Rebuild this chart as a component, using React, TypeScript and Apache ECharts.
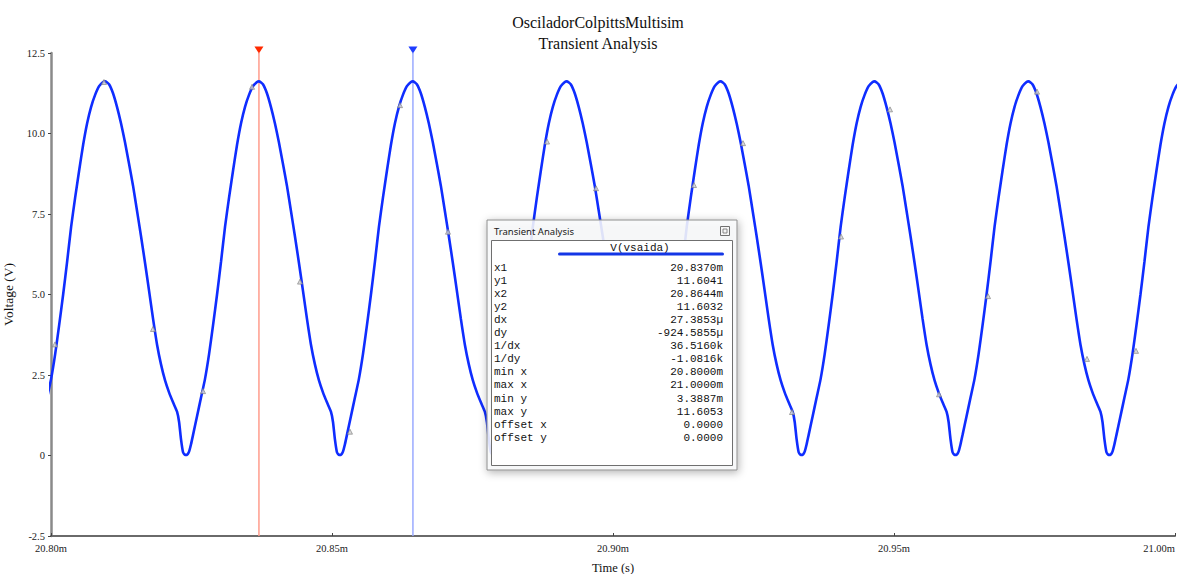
import React, { useEffect, useRef } from "react";
import * as echarts from "echarts";

const peakTimesMs = [20.78223, 20.809615, 20.837, 20.864385, 20.89177, 20.919155, 20.94654, 20.973925];
// One cycle shape: offset after the peak (µs) and voltage (V)
const cycleOffsetsUs = [0, 0.71, 1.42, 2.14, 2.85, 3.56, 4.27, 4.98, 5.69, 6.41, 7.12, 7.83, 8.54, 9.25, 9.96, 10.68, 11.39, 12.1, 12.81, 13.17, 13.52, 13.88, 14.23, 14.59, 14.95, 15.3, 15.66, 16.37, 17.08, 17.79, 18.51, 19.22, 19.93, 20.64, 21.35, 22.06, 22.78, 23.49, 24.2, 24.91, 25.62, 26.33, 27.05];
const cycleVolts = [11.62, 11.53, 11.25, 10.82, 10.31, 9.72, 9.06, 8.38, 7.6, 6.8, 5.98, 5.12, 4.25, 3.45, 2.83, 2.33, 1.96, 1.65, 1.36, 1.05, 0.5, 0.1, 0.02, 0.02, 0.12, 0.35, 0.64, 1.22, 1.8, 2.38, 3.15, 4.05, 5.0, 6.02, 7.1, 8.0, 8.85, 9.65, 10.32, 10.83, 11.2, 11.47, 11.6];

// Small data-point markers on the trace
const markerTimesMs = [20.80071, 20.80943, 20.81815, 20.82705, 20.83577, 20.84431, 20.8532, 20.8621, 20.87064, 20.88826, 20.89698, 20.91441, 20.92313, 20.93185, 20.94057, 20.94929, 20.95801, 20.96673, 20.97545, 20.98434, 20.99306];
const markerVolts = [3.45, 11.6, 3.93, 2.0, 11.45, 5.4, 0.74, 10.88, 6.95, 9.75, 8.3, 8.4, 9.7, 1.35, 6.8, 10.75, 1.9, 4.95, 11.3, 3.0, 3.25];

// Cursors
const cursorTimes = [20.837, 20.8644];
const cursorLineColors = ["#ff9c8c", "#9aaaff"];
const cursorHeadColors = ["#ff2a00", "#1e3cff"];

// Axis ticks
const xTicksMin = 20.8;
const xTicksMax = 21.0;
const xTickStep = 0.05;
const yTicksMin = -2.5;
const yTicksMax = 12.5;
const yTickStep = 2.5;

// Readout window
const readoutHeader = "V(vsaida)";
const readoutLabels = ["x1", "y1", "x2", "y2", "dx", "dy", "1/dx", "1/dy", "min x", "max x", "min y", "max y", "offset x", "offset y"];
const readoutValues = ["20.8370m", "11.6041", "20.8644m", "11.6032", "27.3853\u00b5", "-924.5855\u00b5", "36.5160k", "-1.0816k", "20.8000m", "21.0000m", "3.3887m", "11.6053", "0.0000", "0.0000"];

const SERIF = "'Liberation Serif', 'Times New Roman', serif";
const MONO = "'Liberation Mono', 'Courier New', monospace";
const SANS = "'Noto Sans', 'DejaVu Sans', sans-serif";

export default function App() {
  const ref = useRef<HTMLDivElement>(null);

  useEffect(() => {
    if (!ref.current) return;
    const chart = echarts.init(ref.current, undefined, { renderer: "svg" });

    const trace: [number, number][] = [];
    peakTimesMs.forEach((p) => {
      cycleOffsetsUs.forEach((o, i) => {
        trace.push([p + o / 1000, cycleVolts[i]]);
      });
    });
    const markers = markerTimesMs.map((t, i) => [t, markerVolts[i]]);

    const rowTop = 268;
    const rowStep = 13.05;
    const popup: any[] = [
      {
        type: "rect",
        shape: { x: 487, y: 220, width: 250, height: 250 },
        style: {
          fill: "rgba(250,251,253,0.86)",
          stroke: "#8e8e8e",
          lineWidth: 1,
          shadowBlur: 8,
          shadowColor: "rgba(0,0,0,0.35)",
          shadowOffsetX: 1,
          shadowOffsetY: 2,
        },
        z: 100,
      },
      {
        type: "text",
        x: 494,
        y: 231,
        style: { text: "Transient Analysis", font: `9.5px ${SANS}`, fill: "#1a1a1a", verticalAlign: "middle" },
        z: 101,
      },
      {
        type: "rect",
        shape: { x: 720.5, y: 226.5, width: 9, height: 9 },
        style: { fill: "#f6f6f6", stroke: "#707070", lineWidth: 1 },
        z: 101,
      },
      {
        type: "rect",
        shape: { x: 723, y: 229, width: 4, height: 4 },
        style: { fill: "none", stroke: "#707070", lineWidth: 0.8 },
        z: 102,
      },
      {
        type: "rect",
        shape: { x: 491.5, y: 240.5, width: 241, height: 225 },
        style: { fill: "#ffffff", stroke: "#6f6f6f", lineWidth: 1 },
        z: 101,
      },
      {
        type: "text",
        x: 640,
        y: 247.5,
        style: { text: readoutHeader, font: `11px ${MONO}`, fill: "#111", align: "center", verticalAlign: "middle" },
        z: 102,
      },
      {
        type: "rect",
        shape: { x: 558, y: 252.5, width: 166, height: 3, r: 1.5 },
        style: { fill: "#1436e6" },
        z: 102,
      },
    ];
    readoutLabels.forEach((lab, i) => {
      const y = rowTop + i * rowStep;
      popup.push({
        type: "text",
        x: 494,
        y,
        style: { text: lab, font: `11px ${MONO}`, fill: "#111", verticalAlign: "middle" },
        z: 102,
      });
      popup.push({
        type: "text",
        x: 723,
        y,
        style: { text: readoutValues[i], font: `11px ${MONO}`, fill: "#111", align: "right", verticalAlign: "middle" },
        z: 102,
      });
    });

    const cursorSeries = cursorTimes.map((t, i) => ({
      type: "line",
      data: [
        [t, yTicksMin],
        [t, yTicksMax],
      ],
      showSymbol: false,
      silent: true,
      clip: false,
      lineStyle: { color: cursorLineColors[i], width: 1.5 },
      z: 2,
      markPoint: {
        silent: true,
        label: { show: false },
        animation: false,
        data: [
          {
            coord: [t, yTicksMax],
            symbol: "triangle",
            symbolRotate: 180,
            symbolSize: [9, 7],
            symbolOffset: [0, -3],
            itemStyle: { color: cursorHeadColors[i] },
          },
        ],
      },
    }));

    chart.setOption({
      animation: false,
      backgroundColor: "#ffffff",
      title: {
        text: "OsciladorColpittsMultisim\nTransient Analysis",
        left: 593,
        top: 7,
        textAlign: "center",
        textStyle: {
          fontFamily: SERIF,
          fontSize: 16,
          fontWeight: "normal",
          color: "#111",
          lineHeight: 21,
        },
      },
      grid: { left: 51, right: 4, top: 53, bottom: 38, containLabel: false, outerBoundsMode: "none" },
      xAxis: {
        type: "value",
        min: xTicksMin,
        max: xTicksMax,
        interval: xTickStep,
        name: "Time (s)",
        nameLocation: "middle",
        nameGap: 25,
        nameTextStyle: { fontFamily: SERIF, fontSize: 12.5, color: "#111" },
        axisLine: { show: true, onZero: false, lineStyle: { color: "#6a6a6a", width: 2 } },
        axisTick: { show: true, inside: true, length: 3, lineStyle: { color: "#444" } },
        splitLine: { show: false },
        axisLabel: {
          fontFamily: SERIF,
          fontSize: 10.5,
          color: "#222",
          margin: 7,
          alignMaxLabel: "right",
          formatter: (v: number) => v.toFixed(2) + "m",
        },
      },
      yAxis: {
        type: "value",
        min: yTicksMin,
        max: yTicksMax,
        interval: yTickStep,
        name: "Voltage (V)",
        nameLocation: "middle",
        nameGap: 36,
        nameRotate: 90,
        nameTextStyle: { fontFamily: SERIF, fontSize: 13.5, color: "#111" },
        axisLine: { show: true, onZero: false, lineStyle: { color: "#8a8a8a", width: 2.5 } },
        axisTick: { show: true, length: 3, lineStyle: { color: "#444" } },
        splitLine: { show: false },
        axisLabel: {
          fontFamily: SERIF,
          fontSize: 10.5,
          color: "#222",
          margin: 6,
          formatter: (v: number) => (v === 0 ? "0" : v.toFixed(1)),
        },
      },
      series: [
        ...cursorSeries,
        {
          type: "line",
          data: trace,
          showSymbol: false,
          smooth: 0.2,
          clip: true,
          lineStyle: { color: "#0f2dff", width: 2.6 },
          z: 3,
        },
        {
          type: "scatter",
          data: markers,
          symbol: "triangle",
          symbolSize: 5,
          itemStyle: { color: "#d0d0d0", borderColor: "#7a7a7a", borderWidth: 0.8 },
          z: 4,
          silent: true,
        },
      ],
      graphic: popup,
    });

    return () => chart.dispose();
  }, []);

  return (
    <div
      ref={ref}
      style={{ position: "fixed", left: 0, top: 0, width: 1179, height: 574 }}
    />
  );
}
